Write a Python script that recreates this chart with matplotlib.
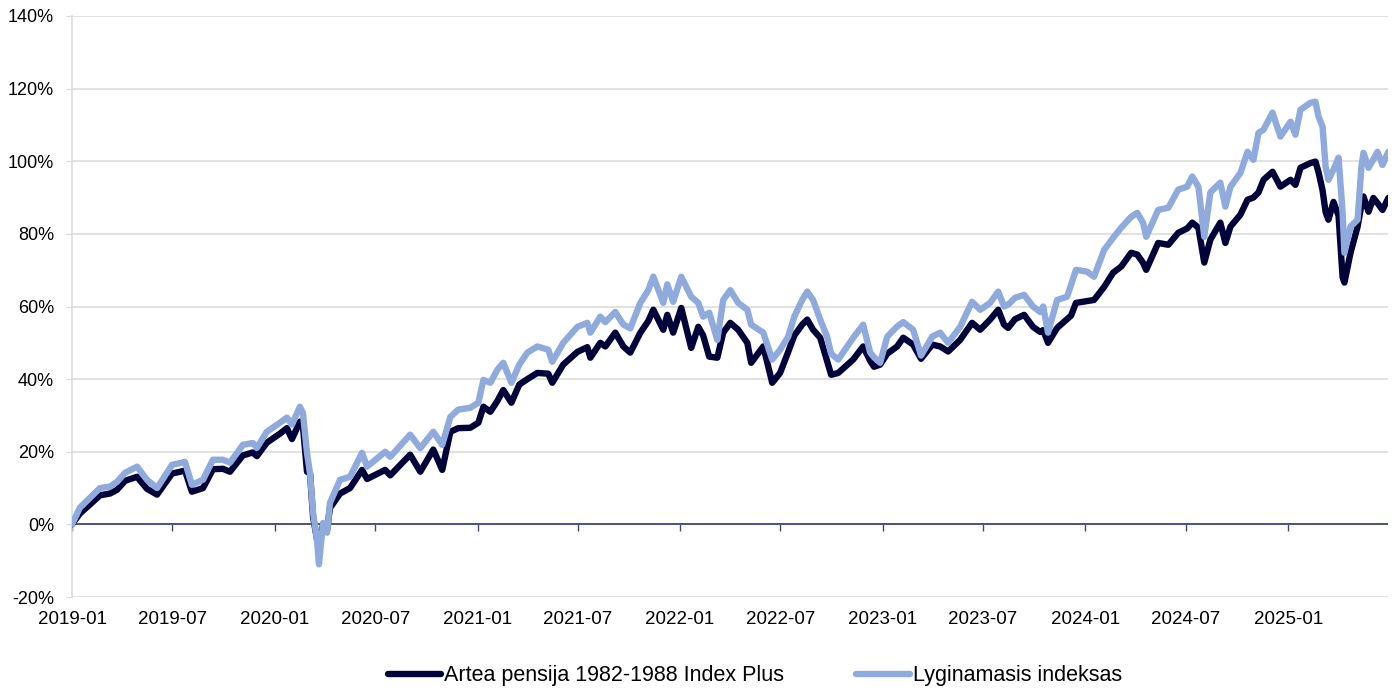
import matplotlib
matplotlib.use('Agg')
import matplotlib.pyplot as plt
import numpy as np
import pandas as pd

plt.rcParams['font.family'] = ['Liberation Sans', 'DejaVu Sans']

# ---------------- data ----------------
series_names = ['Artea pensija 1982-1988 Index Plus', 'Lyginamasis indeksas']

# time as decimal years
date_years = [
    2019.000, 2019.039, 2019.089, 2019.138, 2019.188, 2019.222, 2019.262, 2019.321, 2019.370, 2019.420,
    2019.494, 2019.558, 2019.592, 2019.647, 2019.696, 2019.745, 2019.780, 2019.844, 2019.893, 2019.913,
    2019.962, 2020.027, 2020.061, 2020.086, 2020.125, 2020.140, 2020.160, 2020.175, 2020.190, 2020.209,
    2020.219, 2020.239, 2020.259, 2020.273, 2020.323, 2020.372, 2020.431, 2020.456, 2020.545, 2020.570,
    2020.668, 2020.718, 2020.782, 2020.826, 2020.866, 2020.905, 2020.964, 2021.004, 2021.029, 2021.063,
    2021.098, 2021.127, 2021.167, 2021.206, 2021.246, 2021.295, 2021.349, 2021.369, 2021.423, 2021.493,
    2021.542, 2021.557, 2021.606, 2021.631, 2021.680, 2021.720, 2021.754, 2021.804, 2021.843, 2021.868,
    2021.917, 2021.937, 2021.966, 2022.006, 2022.055, 2022.090, 2022.114, 2022.144, 2022.184, 2022.213,
    2022.248, 2022.287, 2022.332, 2022.351, 2022.411, 2022.455, 2022.494, 2022.534, 2022.564, 2022.603,
    2022.628, 2022.657, 2022.692, 2022.726, 2022.746, 2022.781, 2022.855, 2022.904, 2022.939, 2022.958,
    2022.988, 2023.023, 2023.072, 2023.102, 2023.151, 2023.190, 2023.245, 2023.284, 2023.324, 2023.383,
    2023.442, 2023.482, 2023.531, 2023.571, 2023.600, 2023.620, 2023.654, 2023.699, 2023.743, 2023.778,
    2023.793, 2023.817, 2023.862, 2023.911, 2023.931, 2023.955, 2024.010, 2024.044, 2024.094, 2024.138,
    2024.178, 2024.227, 2024.257, 2024.286, 2024.301, 2024.360, 2024.410, 2024.459, 2024.503, 2024.528,
    2024.558, 2024.587, 2024.617, 2024.666, 2024.691, 2024.716, 2024.765, 2024.800, 2024.829, 2024.854,
    2024.879, 2024.923, 2024.962, 2025.012, 2025.036, 2025.061, 2025.110, 2025.135, 2025.150, 2025.170,
    2025.185, 2025.199, 2025.224, 2025.249, 2025.269, 2025.278, 2025.308, 2025.343, 2025.362, 2025.372,
    2025.397, 2025.421, 2025.441, 2025.466, 2025.495,
]

fund = [
    0.0, 3.0, 5.5, 8.0, 8.5, 9.5, 12.0, 13.1, 9.8, 8.2,
    14.0, 14.8, 9.0, 10.0, 15.2, 15.3, 14.5, 19.0, 19.8, 18.8,
    22.5, 25.0, 26.5, 23.5, 28.3, 27.0, 14.5, 14.0, 2.0, -4.0,
    -6.0, 0.0, -1.5, 4.5, 8.5, 10.0, 15.0, 12.5, 15.0, 13.5,
    19.2, 14.5, 20.6, 15.0, 25.5, 26.5, 26.6, 28.0, 32.4, 31.0,
    34.0, 37.0, 33.5, 38.5, 40.0, 41.7, 41.5, 39.0, 44.0, 47.5,
    48.8, 45.9, 50.0, 49.0, 52.8, 49.0, 47.3, 52.8, 56.0, 59.1,
    53.6, 57.7, 52.8, 59.6, 48.6, 54.4, 52.0, 46.2, 45.9, 52.8,
    55.5, 53.6, 50.0, 44.5, 49.0, 39.0, 41.7, 47.5, 52.0, 55.0,
    56.4, 53.6, 51.4, 45.0, 41.2, 41.7, 45.4, 49.0, 45.0, 43.4,
    44.0, 47.0, 49.0, 51.4, 49.5, 45.6, 49.5, 49.0, 47.6, 50.8,
    55.5, 53.6, 56.4, 59.1, 55.0, 54.1, 56.5, 57.7, 54.4, 53.0,
    53.5, 50.0, 54.1, 56.5, 57.5, 61.0, 61.5, 61.8, 65.4, 69.3,
    71.0, 74.8, 74.3, 72.0, 70.1, 77.5, 77.0, 80.3, 81.5, 83.1,
    81.7, 72.1, 78.4, 83.1, 77.5, 82.0, 85.3, 89.4, 90.0, 91.4,
    94.9, 97.1, 93.0, 94.9, 93.5, 98.2, 99.5, 99.9, 97.0, 92.0,
    86.0, 83.9, 88.8, 85.0, 68.0, 66.6, 74.8, 82.0, 88.0, 90.3,
    86.1, 89.9, 88.5, 86.6, 89.9,
]

benchmark = [
    0.0, 4.6, 7.3, 10.0, 10.4, 11.7, 14.2, 15.9, 12.3, 10.0,
    16.4, 17.2, 10.9, 12.3, 17.8, 17.8, 17.0, 21.9, 22.4, 21.1,
    25.5, 28.0, 29.4, 27.5, 32.4, 30.7, 19.7, 14.0, 3.2, -4.2,
    -11.0, 0.4, -2.3, 5.9, 12.3, 13.1, 19.7, 15.9, 20.0, 18.6,
    24.7, 21.0, 25.5, 21.9, 29.6, 31.6, 32.1, 33.5, 39.8, 39.0,
    42.6, 44.5, 39.0, 44.0, 47.3, 49.0, 48.1, 44.8, 50.0, 54.4,
    55.5, 52.8, 57.2, 55.7, 58.5, 55.0, 54.0, 61.0, 64.5, 68.2,
    61.0, 66.1, 61.3, 68.2, 62.7, 61.0, 57.2, 58.3, 50.8, 61.8,
    64.5, 61.0, 59.1, 55.0, 52.8, 45.4, 48.1, 51.7, 57.2, 61.8,
    64.1, 61.8, 56.4, 51.7, 47.0, 45.4, 51.4, 55.0, 47.3, 46.0,
    44.5, 51.7, 54.5, 55.7, 53.6, 46.5, 51.7, 52.8, 50.0, 54.4,
    61.3, 59.1, 61.0, 64.1, 60.0, 60.5, 62.4, 63.2, 60.0, 58.5,
    60.0, 52.8, 61.8, 62.7, 66.0, 70.1, 69.6, 68.2, 75.6, 78.9,
    81.7, 84.7, 85.8, 83.0, 79.2, 86.6, 87.2, 92.2, 93.0, 95.8,
    93.0, 79.2, 91.4, 94.1, 87.5, 93.0, 96.8, 102.6, 100.4, 107.8,
    108.7, 113.4, 106.8, 110.9, 107.3, 114.2, 116.1, 116.4, 112.3, 109.5,
    98.5, 94.9, 97.7, 101.0, 85.8, 74.8, 82.0, 83.9, 98.5, 102.3,
    98.2, 100.5, 102.6, 99.0, 102.6,
]

x_tick_labels = ['2019-01', '2019-07', '2020-01', '2020-07', '2021-01', '2021-07', '2022-01',
                 '2022-07', '2023-01', '2023-07', '2024-01', '2024-07', '2025-01']
y_ticks = [-20, 0, 20, 40, 60, 80, 100, 120, 140]
x_start, x_end = '2019-01-01', '2025-06-30'

# ---------------- helpers ----------------
def year_to_date(t):
    y = int(np.floor(t))
    s = pd.Timestamp(year=y, month=1, day=1)
    e = pd.Timestamp(year=y + 1, month=1, day=1)
    return s + (e - s) * (t - y)

dates = [year_to_date(t) for t in date_years]
tick_dates = [pd.Timestamp(lbl + '-01') for lbl in x_tick_labels]

dark = '#02023a'
light = '#8faadc'
grid_c = '#d9d9d9'
zero_c = '#3c4a78'

fig = plt.figure(figsize=(14, 6.91), dpi=100)
ax = fig.add_axes([72 / 1400, 1 - 597 / 691, 1316 / 1400, 581 / 691])

l1, = ax.plot(dates, fund, color=dark, lw=4.6, solid_joinstyle='round',
              solid_capstyle='round', zorder=3, label=series_names[0])
l2, = ax.plot(dates, benchmark, color=light, lw=4.6, solid_joinstyle='round',
              solid_capstyle='round', zorder=4, label=series_names[1])

ax.set_ylim(-20, 140)
ax.set_xlim(pd.Timestamp(x_start), pd.Timestamp(x_end))
ax.set_yticks(y_ticks)
ax.set_yticklabels([f'{v}%' for v in y_ticks])
ax.set_xticks(tick_dates)
ax.set_xticklabels(x_tick_labels)

ax.yaxis.grid(True, color=grid_c, lw=1.1)
ax.set_axisbelow(True)
ax.axhline(0, color=zero_c, lw=1.3, zorder=2)

for s in ['top', 'right', 'bottom']:
    ax.spines[s].set_visible(False)
ax.spines['left'].set_color(grid_c)
ax.spines['left'].set_linewidth(1.1)

ax.tick_params(axis='y', length=4, color=grid_c, pad=9, labelsize=13, labelcolor='black')
ax.tick_params(axis='x', length=0, pad=10, labelsize=13.5, labelcolor='black')

# tick marks on the zero line
sec = ax.secondary_xaxis((0 - (-20)) / 160)
sec.set_xticks(tick_dates)
sec.tick_params(axis='x', length=5, color=zero_c, width=1.0, labelbottom=False)
for s in sec.spines.values():
    s.set_visible(False)

fig.legend(handles=[l1, l2], labels=series_names, loc='center',
           bbox_to_anchor=(755 / 1400, 1 - 676 / 691), ncol=2, frameon=False,
           fontsize=15.5, handlelength=2.5, handletextpad=0.14, columnspacing=3.35)

fig.savefig('out.png', dpi=100)
